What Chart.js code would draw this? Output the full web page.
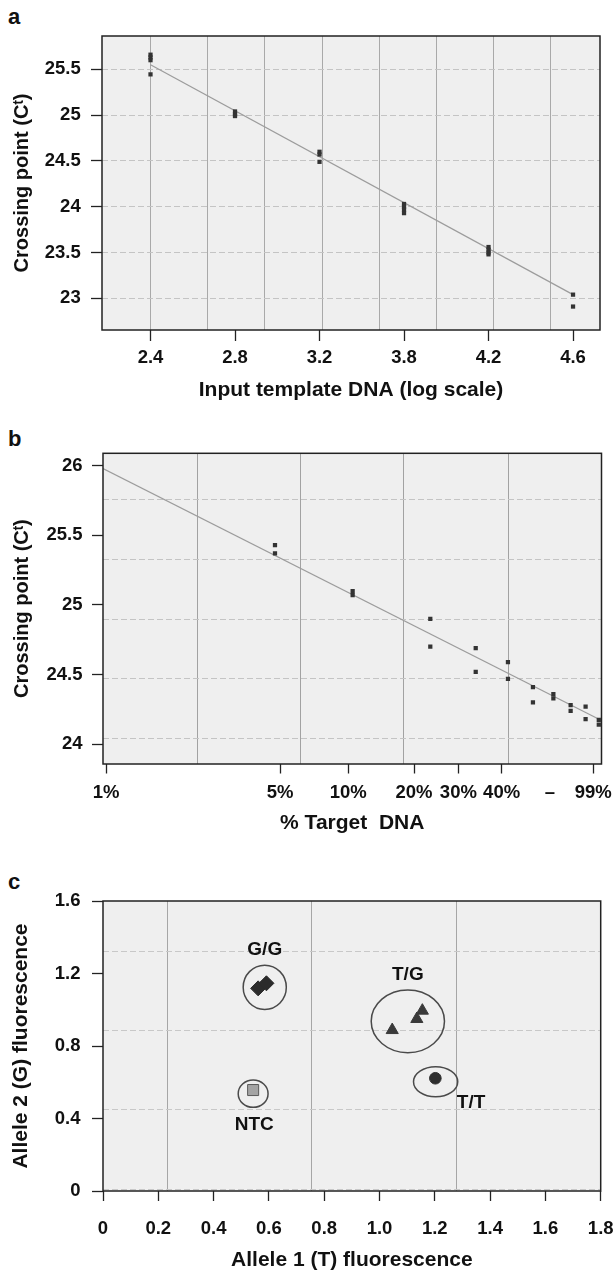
<!DOCTYPE html>
<html>
<head>
<meta charset="utf-8">
<script src="https://cdn.jsdelivr.net/npm/chart.js@4.4.1/dist/chart.umd.min.js"></script>
<style>
  html, body { margin: 0; padding: 0; background: #fff; }
  body { width: 616px; height: 1274px; position: relative; overflow: hidden; font-family: 'Liberation Sans', Arial, Helvetica, sans-serif; }
  canvas { position: absolute; left: 0; }
  .letra { position: absolute; left: 8px; font-weight: bold; font-size: 22px; line-height: 22px; color: #111; }
</style>
</head>
<body>
<div class="letra" style="top:6px">a</div>
<canvas id="chart-a" width="616" height="410" style="top:0px"></canvas>
<div class="letra" style="top:428px">b</div>
<canvas id="chart-b" width="616" height="420" style="top:420px"></canvas>
<div class="letra" style="top:871px">c</div>
<canvas id="chart-c" width="616" height="434" style="top:840px"></canvas>

<script>
// --- datos panel a ---
const aTickLabels = ['2.4', '2.8', '3.2', '3.8', '4.2', '4.6'];
const aCrossing = [
  [25.66, 25.63, 25.60, 25.445],
  [25.04, 25.01, 24.99],
  [24.60, 24.57, 24.49],
  [24.03, 24.00, 23.97, 23.93],
  [23.56, 23.53, 23.50, 23.48],
  [23.04, 22.91]
];
const aFit = [25.55, 23.04];           // recta de ajuste, primer y ultimo punto
const aYTicks = [23, 23.5, 24, 24.5, 25, 25.5];
const aXRange = [-0.574, 5.319];
const aYRange = [22.654, 25.864];
const aGridX = [0, 0.677, 1.354, 2.031, 2.708, 3.385, 4.062, 4.739];

// --- datos panel b ---
const bTarget = [5, 10, 20, 30, 40, 50, 60, 70, 80, 90];
const bCrossing = [
  [25.43, 25.37],
  [25.10, 25.07],
  [24.90, 24.70],
  [24.69, 24.52],
  [24.59, 24.47],
  [24.41, 24.30],
  [24.36, 24.33],
  [24.28, 24.24],
  [24.27, 24.18],
  [24.175, 24.14]
];
const bTickLabels = ['1%', '5%', '10%', '20%', '30%', '40%', '\u2013', '99%'];
const bTickValues = [1.107, 5.23, 9.62, 17.3, 25.7, 37.8, 58.2, 85.7];
const bFitX = [1.077, 92.2];
const bFitY = [25.98, 24.17];
const bYTicks = [24, 24.5, 25, 25.5, 26];
const bXRange = [1.077, 92.2];
const bYRange = [23.858, 26.089];
const bGridX = [2.505, 6.29, 15.76, 40.2];
const bGridY = [24.043, 24.471, 24.899, 25.327, 25.755];

// --- datos panel c ---
const cGenotypes = ['G/G', 'T/G', 'T/T', 'NTC'];
const cAllele1 = [[0.561, 0.591], [1.046, 1.135, 1.155], [1.202], [0.543]];
const cAllele2 = [[1.118, 1.146], [0.888, 0.949, 0.995], [0.622], [0.557]];
const cRingX = [0.585, 1.1025, 1.203, 0.543];
const cRingY = [1.124, 0.936, 0.603, 0.537];
const cRingRx = [0.078, 0.1325, 0.080, 0.054];
const cRingRy = [0.122, 0.173, 0.083, 0.0756];
const cLabelX = [0.585, 1.1025, 1.331, 0.547];
const cLabelY = [1.33, 1.192, 0.487, 0.364];
const cXTickLabels = ['0', '0.2', '0.4', '0.6', '0.8', '1.0', '1.2', '1.4', '1.6', '1.8'];
const cYTickLabels = ['0', '0.4', '0.8', '1.2', '1.6'];
const cGridX = [0.235, 0.755, 1.277];
const cGridY = [0.01, 0.451, 0.884, 1.32];

const FONT = "'Liberation Sans', Arial, Helvetica, sans-serif";
Chart.defaults.font.family = FONT;
Chart.defaults.font.weight = 'bold';
Chart.defaults.color = '#111';
Chart.defaults.animation = false;
Chart.defaults.responsive = false;
Chart.defaults.plugins.legend.display = false;
Chart.defaults.plugins.tooltip.enabled = false;

// fondo gris y marco del area de trazado
const plotFrame = {
  id: 'plotFrame',
  beforeDraw(chart) {
    const { ctx, chartArea: a } = chart;
    ctx.save();
    ctx.fillStyle = '#efefef';
    ctx.fillRect(a.left, a.top, a.right - a.left, a.bottom - a.top);
    ctx.restore();
  },
  afterDraw(chart) {
    const { ctx, chartArea: a } = chart;
    ctx.save();
    ctx.strokeStyle = '#222';
    ctx.lineWidth = 1.5;
    ctx.strokeRect(a.left, a.top, a.right - a.left, a.bottom - a.top);
    ctx.restore();
  }
};
Chart.register(plotFrame);

// elipses y nombres de los grupos (panel c)
const clusterRings = {
  id: 'clusterRings',
  afterDatasetsDraw(chart) {
    const { ctx, scales: { x, y } } = chart;
    ctx.save();
    ctx.strokeStyle = '#4a4a4a';
    ctx.lineWidth = 1.5;
    cGenotypes.forEach((g, i) => {
      const cx = x.getPixelForValue(cRingX[i]);
      const cy = y.getPixelForValue(cRingY[i]);
      const rx = Math.abs(x.getPixelForValue(cRingX[i] + cRingRx[i]) - cx);
      const ry = Math.abs(y.getPixelForValue(cRingY[i] + cRingRy[i]) - cy);
      ctx.beginPath();
      ctx.ellipse(cx, cy, rx, ry, 0, 0, Math.PI * 2);
      ctx.stroke();
    });
    ctx.font = 'bold 19px ' + FONT;
    ctx.fillStyle = '#111';
    ctx.textAlign = 'center';
    ctx.textBaseline = 'middle';
    cGenotypes.forEach((g, i) => {
      ctx.fillText(g, x.getPixelForValue(cLabelX[i]), y.getPixelForValue(cLabelY[i]));
    });
    ctx.restore();
  }
};

function fixed(dim, val) {
  return scale => {
    scale[dim] = val;
    scale.paddingLeft = 0; scale.paddingRight = 0;
    scale.paddingTop = 0; scale.paddingBottom = 0;
  };
}

function setTicks(values) {
  return scale => { scale.ticks = values.map(v => ({ value: v })); };
}

// eje oculto que solo dibuja la reticula de fondo
function backgroundGrid(type, position, range, values, color, dash) {
  return {
    type: type,
    position: position,
    min: range[0],
    max: range[1],
    afterBuildTicks: setTicks(values),
    afterFit: fixed(position === 'left' ? 'width' : 'height', 0),
    ticks: { display: false },
    grid: { color: color, lineWidth: 1, drawTicks: false, drawOnChartArea: true },
    border: { display: false, dash: dash || [] }
  };
}

function tickGrid(len, onArea, color) {
  return {
    drawOnChartArea: onArea, color: color || '#c6c6c6', lineWidth: 1,
    tickLength: len, tickColor: '#222', tickWidth: 1.3
  };
}

const pointStyle = {
  showLine: false, pointStyle: 'rect', pointRadius: 3,
  pointBackgroundColor: '#333', pointBorderColor: '#333', pointBorderWidth: 0, order: 0
};
const fitStyle = { showLine: true, pointRadius: 0, borderColor: '#9c9c9c', borderWidth: 1.2, order: 1 };

// --- PANEL A ---
function renderizarPanelA() {
  const puntos = aCrossing.flatMap((ys, i) => ys.map(y => ({ x: i, y: y })));
  const recta = [{ x: 0, y: aFit[0] }, { x: aTickLabels.length - 1, y: aFit[1] }];

  new Chart(document.getElementById('chart-a'), {
    type: 'scatter',
    data: { datasets: [{ data: puntos, ...pointStyle }, { data: recta, ...fitStyle }] },
    options: {
      layout: { padding: { top: 36, right: 16, left: 0, bottom: 0 } },
      scales: {
        x: {
          type: 'linear', min: aXRange[0], max: aXRange[1],
          afterBuildTicks: setTicks(aTickLabels.map((_, i) => i)),
          afterFit: fixed('height', 80),
          ticks: { padding: 6, font: { size: 18.5 }, autoSkip: false, maxRotation: 0, callback: (v, i) => aTickLabels[i] },
          grid: tickGrid(11, false),
          border: { display: false },
          title: { display: true, text: 'Input template DNA (log scale)', font: { size: 21 }, padding: { top: 0, bottom: 7.4 } }
        },
        x2: backgroundGrid('linear', 'bottom', aXRange, aGridX, '#a9a9a9'),
        y: {
          min: aYRange[0], max: aYRange[1],
          afterBuildTicks: setTicks(aYTicks),
          afterFit: fixed('width', 102),
          ticks: { padding: 10.3, font: { size: 18.5 }, callback: v => String(v) },
          grid: tickGrid(11, true, '#c4c4c4'),
          border: { display: false, dash: [6, 3] },
          title: { display: true, text: 'Crossing point (C\u1D57)', font: { size: 20 }, padding: { top: 10, bottom: 0 } }
        }
      }
    }
  });
}

// --- PANEL B ---
function renderizarPanelB() {
  const puntos = bCrossing.flatMap((ys, i) => ys.map(y => ({ x: bTarget[i], y: y })));
  const recta = bFitX.map((x, i) => ({ x: x, y: bFitY[i] }));

  new Chart(document.getElementById('chart-b'), {
    type: 'scatter',
    data: { datasets: [{ data: puntos, ...pointStyle }, { data: recta, ...fitStyle }] },
    options: {
      layout: { padding: { top: 33.3, right: 14.5, left: 0, bottom: 0 } },
      scales: {
        x: {
          type: 'logarithmic', min: bXRange[0], max: bXRange[1],
          afterBuildTicks: setTicks(bTickValues),
          afterFit: fixed('height', 76),
          ticks: { padding: 8.7, font: { size: 18.5 }, autoSkip: false, maxRotation: 0, callback: (v, i) => bTickLabels[i] },
          grid: {
            drawOnChartArea: false, tickLength: 9.5, tickWidth: 1.3,
            tickColor: ctx => bTickLabels[ctx.index] === '\u2013' ? 'rgba(0,0,0,0)' : '#222'
          },
          border: { display: false },
          title: { display: true, text: '% Target  DNA', font: { size: 21 }, padding: { top: 0, bottom: 4.4 } }
        },
        x2: backgroundGrid('logarithmic', 'bottom', bXRange, bGridX, '#a2a2a2'),
        y: {
          min: bYRange[0], max: bYRange[1],
          afterBuildTicks: setTicks(bYTicks),
          afterFit: fixed('width', 103),
          ticks: { padding: 9.5, font: { size: 18.5 }, callback: v => String(v) },
          grid: tickGrid(11, false),
          border: { display: false },
          title: { display: true, text: 'Crossing point (C\u1D57)', font: { size: 20 }, padding: { top: 10, bottom: 0 } }
        },
        y2: backgroundGrid('linear', 'left', bYRange, bGridY, '#c4c4c4', [6, 3])
      }
    }
  });
}

// --- PANEL C ---
function renderizarPanelC() {
  const estilos = [
    { pointStyle: 'rectRot', pointRadius: 7.5, color: '#2b2b2b', border: '#2b2b2b' },
    { pointStyle: 'triangle', pointRadius: 7, color: '#3a3a3a', border: '#3a3a3a' },
    { pointStyle: 'circle', pointRadius: 5.8, color: '#2e2e2e', border: '#2e2e2e' },
    { pointStyle: 'rect', pointRadius: 7.8, color: '#a4a4a4', border: '#5a5a5a' }
  ];
  const datasets = cGenotypes.map((g, i) => ({
    label: g,
    data: cAllele1[i].map((x, j) => ({ x: x, y: cAllele2[i][j] })),
    showLine: false,
    pointStyle: estilos[i].pointStyle,
    pointRadius: estilos[i].pointRadius,
    pointBackgroundColor: estilos[i].color,
    pointBorderColor: estilos[i].border,
    pointBorderWidth: 1
  }));

  new Chart(document.getElementById('chart-c'), {
    type: 'scatter',
    data: { datasets: datasets },
    plugins: [clusterRings],
    options: {
      layout: { padding: { top: 61, right: 15.3, left: 0, bottom: 0 } },
      scales: {
        x: {
          type: 'linear', min: 0, max: 1.8,
          afterBuildTicks: setTicks(cXTickLabels.map(Number)),
          afterFit: fixed('height', 83),
          ticks: { padding: 17, font: { size: 18.5 }, autoSkip: false, maxRotation: 0, callback: (v, i) => cXTickLabels[i] },
          grid: tickGrid(10, false),
          border: { display: false },
          title: { display: true, text: 'Allele 1 (T) fluorescence', font: { size: 21 }, padding: { top: 0, bottom: 1.4 } }
        },
        x2: backgroundGrid('linear', 'bottom', [0, 1.8], cGridX, '#a6a6a6'),
        y: {
          min: 0, max: 1.6,
          afterBuildTicks: setTicks(cYTickLabels.map(Number)),
          afterFit: fixed('width', 103),
          ticks: { padding: 11.5, font: { size: 18.5 }, callback: (v, i) => cYTickLabels[i] },
          grid: tickGrid(11, false),
          border: { display: false },
          title: { display: true, text: 'Allele 2 (G) fluorescence', font: { size: 21 }, padding: { top: 8.5, bottom: 0 } }
        },
        y2: backgroundGrid('linear', 'left', [0, 1.6], cGridY, '#c8c8c8', [6, 3])
      }
    }
  });
}

renderizarPanelA();
renderizarPanelB();
renderizarPanelC();
</script>
</body>
</html>
